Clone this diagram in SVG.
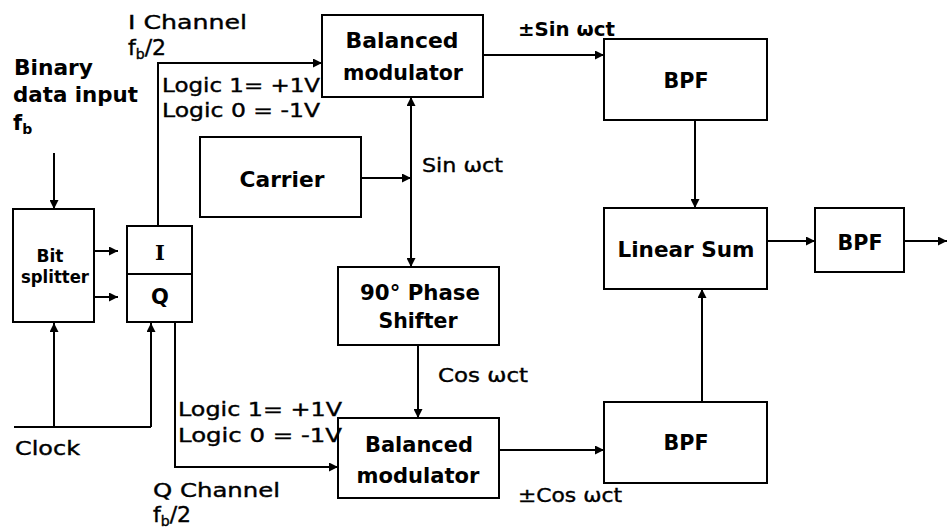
<svg xmlns="http://www.w3.org/2000/svg" width="949" height="532" viewBox="0 0 949 532">
<defs>
<marker id="arr" viewBox="0 0 10 10" refX="10" refY="5" markerWidth="9" markerHeight="9" markerUnits="userSpaceOnUse" orient="auto">
<path d="M0,0 L10,5 L0,10 Z" fill="#000"/>
</marker>
<style>
.box{fill:#fff;stroke:#000;stroke-width:2}
.ln{fill:none;stroke:#000;stroke-width:2}
.ar{fill:none;stroke:#000;stroke-width:2;marker-end:url(#arr)}
text{font-family:"DejaVu Sans","Liberation Sans",sans-serif;fill:#000}
.b{font-weight:bold;font-size:21px}
.n{font-weight:normal;font-size:20px;stroke:#000;stroke-width:0.4}
.m{text-anchor:middle}
.sub{font-size:14px}
</style>
</defs>
<rect width="949" height="532" fill="#fff"/>

<g id="connectors">
<path class="ar" d="M54,153 V209"/>
<path class="ar" d="M94,251 H118"/>
<path class="ar" d="M94,297 H118"/>
<path class="ln" d="M14,427 H151"/>
<path class="ar" d="M54,427 V323"/>
<path class="ar" d="M151,427 V323"/>
<path class="ar" d="M158,226 V63 H322"/>
<path class="ar" d="M175,322 V467 H338"/>
<path class="ar" d="M361,178 H411"/>
<path class="ar" d="M411,178 V97"/>
<path class="ar" d="M411,178 V267"/>
<path class="ar" d="M418,345 V418"/>
<path class="ar" d="M483,55 H604"/>
<path class="ar" d="M499,450 H604"/>
<path class="ar" d="M695,120 V208"/>
<path class="ar" d="M702,402 V289"/>
<path class="ar" d="M767,241 H815"/>
<path class="ar" d="M904,241 H947"/>
</g>

<g id="bit-splitter">
<rect class="box" x="13" y="209" width="81" height="113"/>
<text class="m" x="50" y="262" style="font-size:17px;font-weight:bold" textLength="27" lengthAdjust="spacingAndGlyphs">Bit</text>
<text class="m" x="55" y="283" style="font-size:17px;font-weight:bold" textLength="68" lengthAdjust="spacingAndGlyphs">splitter</text>
</g>

<g id="iq-box">
<rect class="box" x="127" y="226" width="65" height="96"/>
<line class="ln" x1="127" y1="274" x2="192" y2="274"/>
<text class="b m" x="160" y="260" style="font-family:'DejaVu Serif',serif">I</text>
<text class="b m" x="160" y="304">Q</text>
</g>

<g id="modulator-top">
<rect class="box" x="322" y="15" width="161" height="82"/>
<text class="b m" x="402" y="48" textLength="113" lengthAdjust="spacingAndGlyphs">Balanced</text>
<text class="b m" x="403" y="80" textLength="120" lengthAdjust="spacingAndGlyphs">modulator</text>
</g>

<g id="carrier">
<rect class="box" x="200" y="137" width="161" height="80"/>
<text class="b m" x="282" y="187" textLength="85" lengthAdjust="spacingAndGlyphs">Carrier</text>
</g>

<g id="phase-shifter">
<rect class="box" x="338" y="267" width="161" height="78"/>
<text class="b m" x="420" y="300" textLength="120" lengthAdjust="spacingAndGlyphs">90° Phase</text>
<text class="b m" x="418" y="328" textLength="79" lengthAdjust="spacingAndGlyphs">Shifter</text>
</g>

<g id="modulator-bottom">
<rect class="box" x="338" y="418" width="161" height="80"/>
<text class="b m" x="419" y="452" textLength="108" lengthAdjust="spacingAndGlyphs">Balanced</text>
<text class="b m" x="418" y="483" textLength="123" lengthAdjust="spacingAndGlyphs">modulator</text>
</g>

<g id="bpf-top">
<rect class="box" x="604" y="39" width="163" height="81"/>
<text class="b m" x="686" y="88" textLength="45" lengthAdjust="spacingAndGlyphs">BPF</text>
</g>

<g id="linear-sum">
<rect class="box" x="604" y="208" width="163" height="81"/>
<text class="b m" x="686" y="257" textLength="137" lengthAdjust="spacingAndGlyphs">Linear Sum</text>
</g>

<g id="bpf-bottom">
<rect class="box" x="604" y="402" width="163" height="81"/>
<text class="b m" x="686" y="450" textLength="45" lengthAdjust="spacingAndGlyphs">BPF</text>
</g>

<g id="bpf-out">
<rect class="box" x="815" y="208" width="89" height="64"/>
<text class="b m" x="860" y="250" textLength="45" lengthAdjust="spacingAndGlyphs">BPF</text>
</g>

<g id="labels">
<text class="n" x="128" y="29" textLength="119" lengthAdjust="spacingAndGlyphs">I Channel</text>
<text class="n" x="128" y="55" style="font-size:22px">f<tspan class="sub" dy="4">b</tspan><tspan dy="-4">/2</tspan></text>
<text class="b" x="14" y="75" textLength="79" lengthAdjust="spacingAndGlyphs">Binary</text>
<text class="b" x="13" y="102" textLength="125" lengthAdjust="spacingAndGlyphs">data input</text>
<text class="b" x="13" y="130">f<tspan class="sub" dy="4">b</tspan></text>
<text class="n" x="162" y="92" textLength="158" lengthAdjust="spacingAndGlyphs">Logic 1= +1V</text>
<text class="n" x="162" y="117" textLength="158" lengthAdjust="spacingAndGlyphs">Logic 0 = -1V</text>
<text class="n" x="422" y="172" textLength="81" lengthAdjust="spacingAndGlyphs">Sin ωct</text>
<text class="b" x="518" y="36" style="font-size:20px" textLength="97" lengthAdjust="spacingAndGlyphs">±Sin ωct</text>
<text class="n" x="438" y="382" textLength="90" lengthAdjust="spacingAndGlyphs">Cos ωct</text>
<text class="n" x="518" y="502" textLength="104" lengthAdjust="spacingAndGlyphs">±Cos ωct</text>
<text class="n" x="178" y="416" textLength="164" lengthAdjust="spacingAndGlyphs">Logic 1= +1V</text>
<text class="n" x="178" y="442" textLength="164" lengthAdjust="spacingAndGlyphs">Logic 0 = -1V</text>
<text class="n" x="15" y="455" textLength="65" lengthAdjust="spacingAndGlyphs">Clock</text>
<text class="n" x="153" y="497" textLength="127" lengthAdjust="spacingAndGlyphs">Q Channel</text>
<text class="n" x="153" y="522" style="font-size:22px">f<tspan class="sub" dy="4">b</tspan><tspan dy="-4">/2</tspan></text>
</g>
</svg>
